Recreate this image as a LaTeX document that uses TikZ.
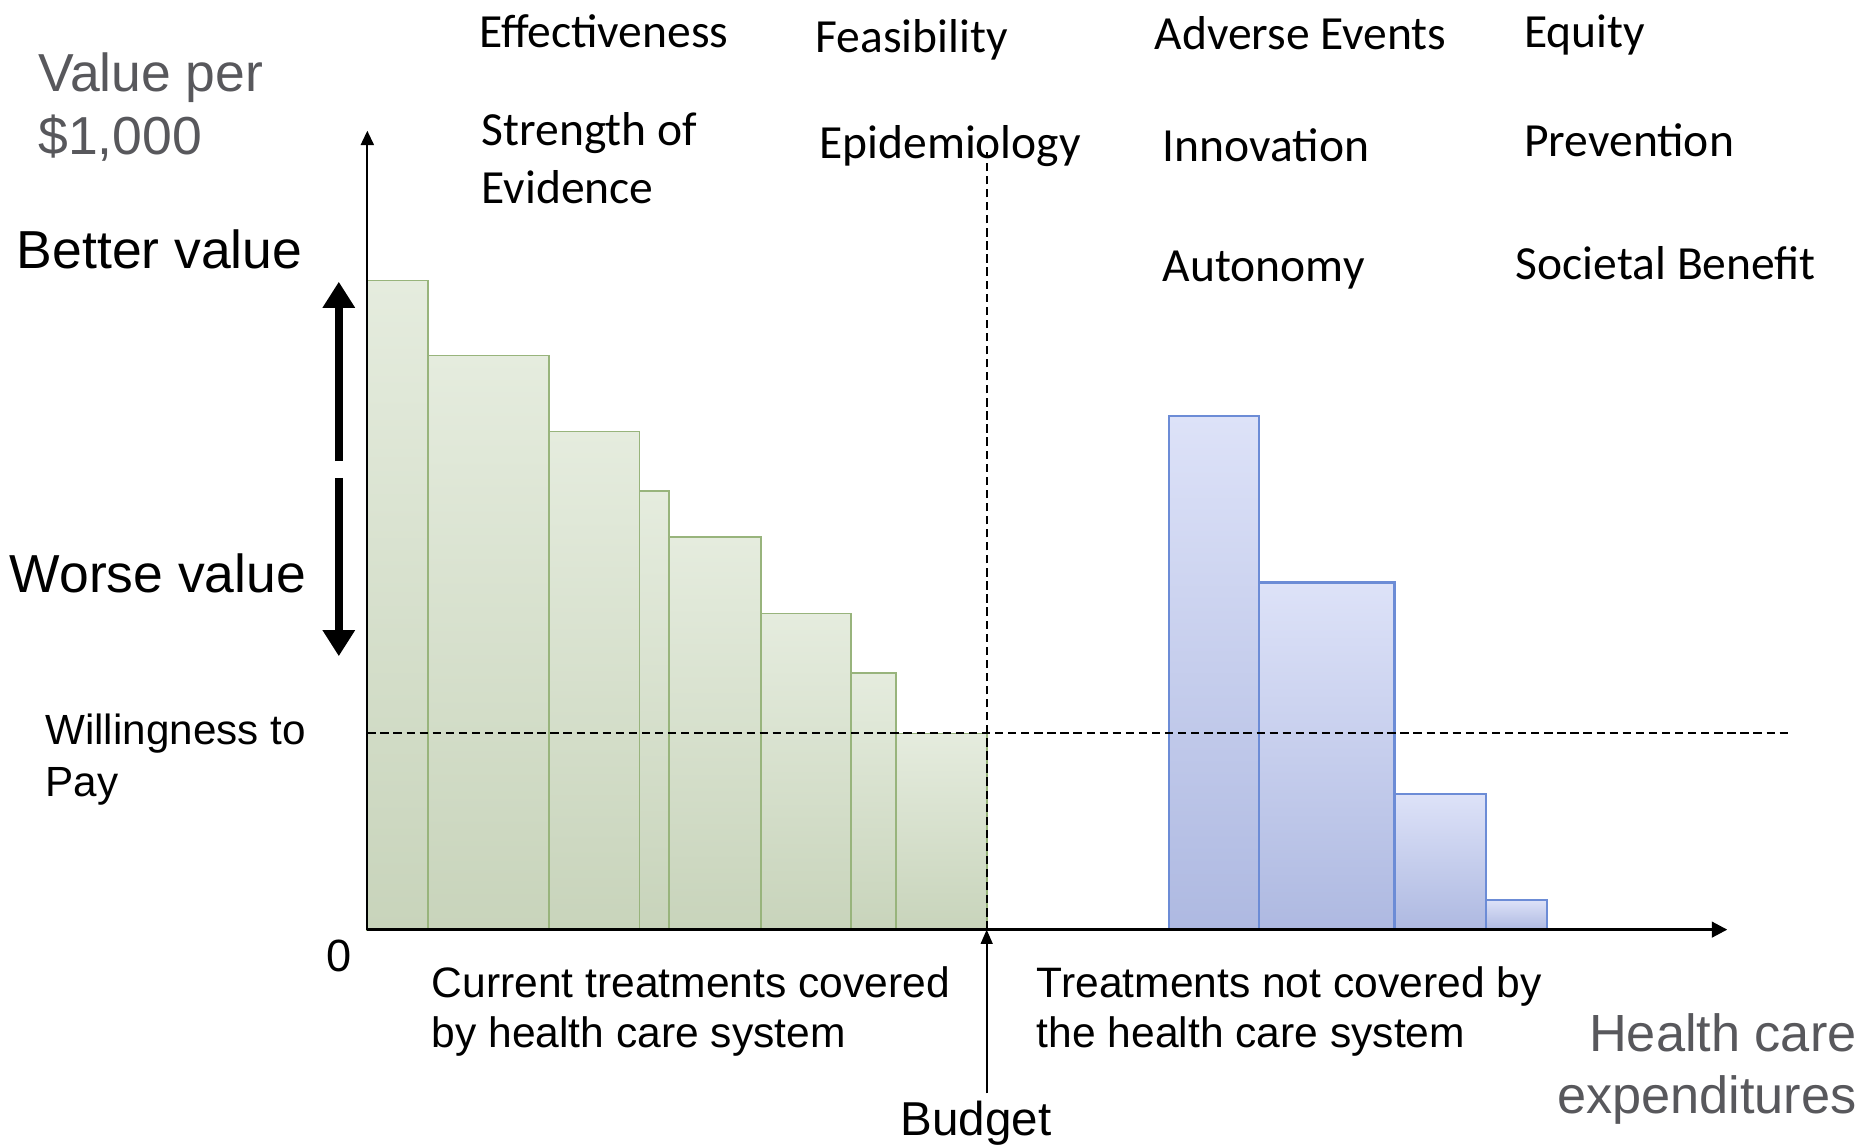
\documentclass[tikz,border=0pt]{standalone}
\usepackage{fontspec}
\setmainfont{Liberation Sans}
\newfontfamily\calibri{Carlito}
\usepackage{xcolor}
\usetikzlibrary{arrows.meta}

\definecolor{barGreen}{RGB}{152,180,124}
\definecolor{greenTop}{RGB}{229,236,222}
\definecolor{greenBot}{RGB}{200,212,187}
\definecolor{barBlue}{RGB}{108,140,214}
\definecolor{blueTop}{RGB}{221,226,248}
\definecolor{blueBot}{RGB}{174,185,225}
\definecolor{axisGray}{RGB}{88,88,92}

\tikzset{
  greenbar/.style={draw=barGreen, line width=1.5pt, top color=greenTop, bottom color=greenBot},
  bluebar/.style={draw=barBlue, line width=1.8pt, top color=blueTop, bottom color=blueBot},
  crit/.style={font=\calibri\fontsize{40}{49}\selectfont, inner sep=0pt, align=left},
  lbl/.style={font=\fontsize{35.8}{42}\selectfont, inner sep=0pt, align=left},
  bigtxt/.style={font=\fontsize{45}{53}\selectfont, inner sep=0pt, align=left},
  cutline/.style={dash pattern=on 7pt off 4pt, line width=1.7pt},
  valarrow/.style={line width=7pt, -{Triangle[length=22pt,width=26pt]}}
}

\begin{document}
\begin{tikzpicture}[x=1pt,y=-1pt]
\useasboundingbox (0,0) rectangle (1568,963);
% 当前覆盖的治疗
\draw[greenbar] (309,782) rectangle (360,236);
\draw[greenbar] (360,782) rectangle (462,299);
\draw[greenbar] (462,782) rectangle (538,363);
\draw[greenbar] (538,782) rectangle (563,413);
\draw[greenbar] (563,782) rectangle (640,452);
\draw[greenbar] (640,782) rectangle (716,516);
\draw[greenbar] (716,782) rectangle (754,566);
\draw[greenbar] (754,782) rectangle (830,617);
% 未覆盖的治疗
\draw[bluebar] (983,782) rectangle (1059,350);
\draw[bluebar] (1059,782) rectangle (1173,490);
\draw[bluebar] (1173,782) rectangle (1250,668);
\draw[bluebar] (1250,782) rectangle (1301,757);
% 支付意愿与预算
\coordinate (W0) at (309,617);
\coordinate (W1) at (1505,617);
\coordinate (B0) at (830,782);
\coordinate (B1) at (830,128);
\draw[cutline] (W0) -- (W1);
\draw[cutline] (B0) -- (B1);
% 坐标轴
\coordinate (O) at (309,782);
\coordinate (ytop) at (309,110);
\coordinate (xend) at (1453,782);
\draw[line width=1.5pt, -{Triangle[length=12pt,width=11pt]}] (O) -- (ytop);
\draw[line width=2.4pt, -{Triangle[length=13pt,width=13pt]}] (O) -- (xend);
\node (zero) at (285,817) [anchor=base, font=\fontsize{38}{44}\selectfont, inner sep=0pt] {0};
% 纵轴标注
\node (vper) at (32,90) [bigtxt, anchor=west, text=axisGray] {Value per\\\$1,000};
\node (better) at (14,226) [bigtxt, anchor=base west] {Better value};
\node (worse) at (8,498) [bigtxt, anchor=base west] {Worse value};
\coordinate (up0) at (285,388);
\coordinate (up1) at (285,237);
\coordinate (dn0) at (285,402);
\coordinate (dn1) at (285,552);
\draw[valarrow] (up0) -- (up1);
\draw[valarrow] (dn0) -- (dn1);
\node (wtp) at (38,639) [lbl, anchor=west, font=\fontsize{35.5}{43}\selectfont] {Willingness to\\Pay};
% 横轴标注
\node (cur) at (363,851) [lbl, anchor=west] {Current treatments covered\\by health care system};
\node (notcov) at (872,851) [lbl, anchor=west] {Treatments not covered by\\the health care system};
\node (budget) at (821,955) [anchor=base, font=\fontsize{40}{46}\selectfont, inner sep=0pt] {Budget};
\draw[line width=1.4pt, -{Triangle[length=12pt,width=10pt]}] (budget.north -| B0) ++(0,-6) -- (B0);
\node (hce) at (1562,899) [bigtxt, anchor=east, align=right, text=axisGray, font=\fontsize{44}{52}\selectfont] {Health care\\expenditures};
% 评价准则
\node (eff) at (403,40) [crit, anchor=base west] {Effectiveness};
\node (soe) at (405,133) [crit, anchor=west] {Strength of\\Evidence};
\node (fea) at (686,44) [crit, anchor=base west] {Feasibility};
\node (epi) at (689,133) [crit, anchor=base west] {Epidemiology};
\node (adv) at (971,42) [crit, anchor=base west] {Adverse Events};
\node (inn) at (978,136) [crit, anchor=base west] {Innovation};
\node (aut) at (978,237) [crit, anchor=base west] {Autonomy};
\node (equ) at (1282,40) [crit, anchor=base west] {Equity};
\node (pre) at (1282,132) [crit, anchor=base west] {Prevention};
\node (soc) at (1275,235) [crit, anchor=base west] {Societal Benefit};
\end{tikzpicture}
\end{document}
